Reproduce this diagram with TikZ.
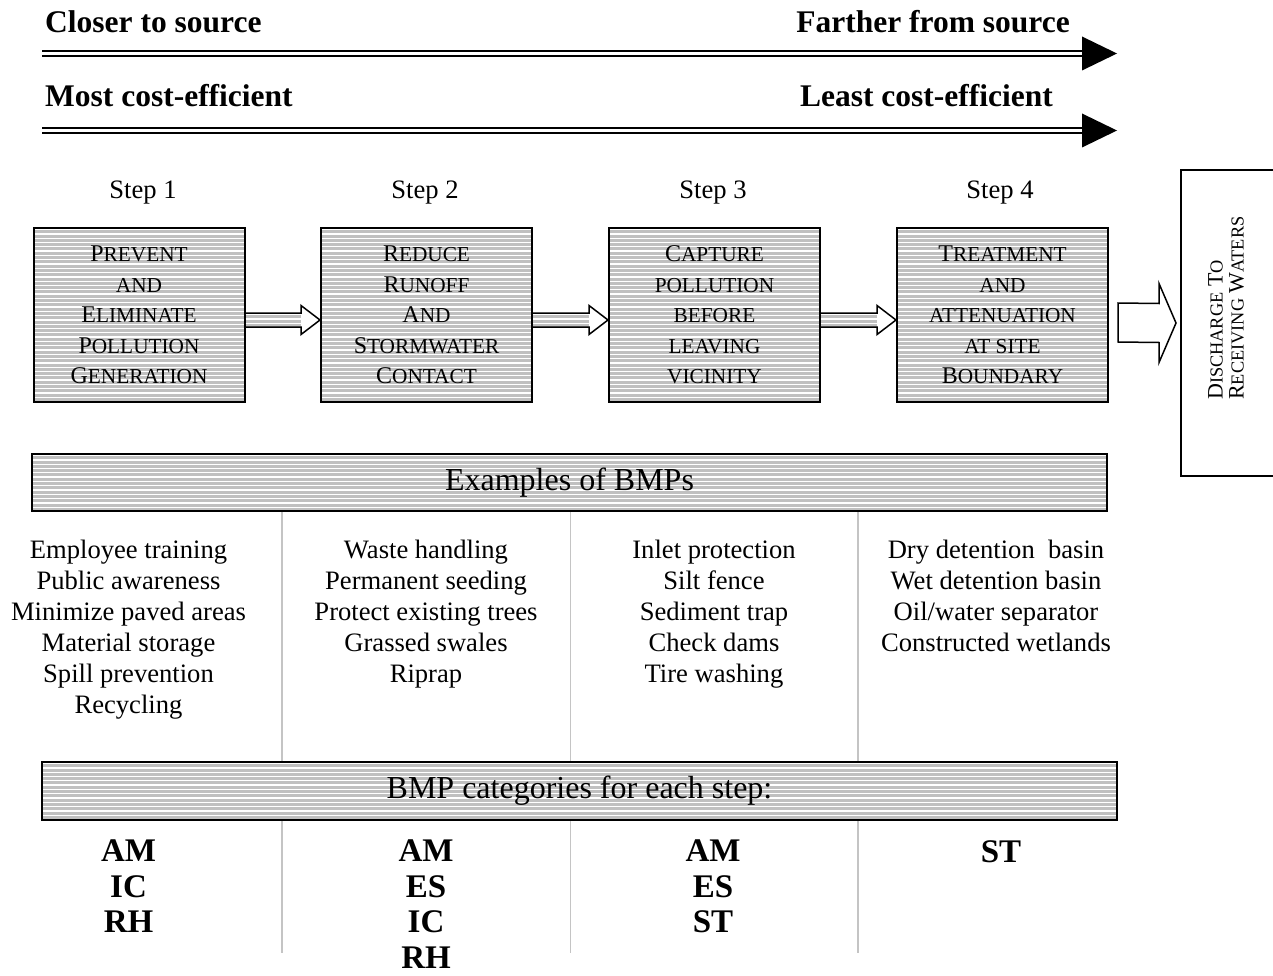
\documentclass[tikz,border=0pt]{standalone}
\usepackage{fontspec}
\setmainfont{Liberation Serif}
\usetikzlibrary{calc}
\definecolor{stripegray}{HTML}{C0C0C0}
\definecolor{sepgray}{HTML}{C4C4C4}
\newcommand{\bsc}[2]{{\fontsize{24}{30.6}\selectfont #1}{\fontsize{21.3}{30.6}\selectfont #2}}
\newcommand{\ssc}[1]{{\fontsize{21.3}{30.6}\selectfont #1}}
\newcommand{\dsc}[2]{{\fontsize{22}{21}\selectfont #1}{\fontsize{18.3}{21}\selectfont #2}}
\tikzset{
  stripes/.style={fill=stripegray, path picture={
      \foreach \k in {0,...,45}
        \draw[white, line width=1.3pt]
          ([yshift=-\k*4.3pt-1.6pt]path picture bounding box.north west) --
          ([yshift=-\k*4.3pt-1.6pt]path picture bounding box.north east);}},
  stepbox/.style={stripes, draw=black, line width=2pt, minimum width=211pt,
      minimum height=174pt, inner sep=0pt, align=center,
      font=\fontsize{24}{30.6}\selectfont},
  banner/.style={stripes, draw=black, line width=2pt, minimum width=1075pt,
      inner sep=0pt, font=\fontsize{32}{36}\selectfont},
  head/.style={font=\bfseries\fontsize{31.5}{36}\selectfont, inner sep=0pt},
  steplabel/.style={anchor=base, inner sep=0pt},
  coltext/.style={anchor=base, inner sep=0pt},
  cattext/.style={anchor=north, inner sep=0pt, align=center,
      font=\bfseries\fontsize{33}{35.5}\selectfont},
  dblline/.style={draw=black, double=white, line width=2.5pt, double distance=2.5pt},
  sepline/.style={draw=sepgray, line width=1.6pt},
  arrowline/.style={draw=black, line width=1.5pt, line join=miter},
}
\newcommand{\blockarrow}[2]{%
  \coordinate (bas) at ($(#1.east)+(0,5)$);
  \coordinate (bat) at ($(#2.west)+(0,5)$);
  \path[stripes] ($(bas)+(0,-7)$) rectangle ($(bat)+(-19,7)$);
  \draw[arrowline] ($(bas)+(0,-7)$) -- ($(bat)+(-19,-7)$) -- ($(bat)+(-19,-14.5)$)
     -- (bat) -- ($(bat)+(-19,14.5)$) -- ($(bat)+(-19,7)$) -- ($(bas)+(0,7)$);
}
\begin{document}
\begin{tikzpicture}[x=1pt, y=-1pt, font=\fontsize{26.6}{31}\selectfont]
\useasboundingbox (0,0) rectangle (1273,976);

% headings and double arrows
\node[head, anchor=base west] (closer) at (45,33) {Closer to source};
\node[head, anchor=base east] (farther) at (1070,33) {Farther from source};
\node[head, anchor=base west] (most) at (45,107) {Most cost-efficient};
\node[head, anchor=base east] (least) at (1053,107) {Least cost-efficient};

\coordinate (d1s) at (42,53.5);
\coordinate (d1e) at (1082,53.5);
\coordinate (d1t) at (1117,53.5);
\draw[dblline] (d1s) -- (d1e);
\fill[black] ($(d1e)+(0,-17)$) -- (d1t) -- ($(d1e)+(0,17)$) -- cycle;

\coordinate (d2s) at (42,130.5);
\coordinate (d2e) at (1082,130.5);
\coordinate (d2t) at (1117,130.5);
\draw[dblline] (d2s) -- (d2e);
\fill[black] ($(d2e)+(0,-17)$) -- (d2t) -- ($(d2e)+(0,17)$) -- cycle;

% step labels
\node[steplabel] (s1) at (143,199) {Step 1};
\node[steplabel] (s2) at (425,199) {Step 2};
\node[steplabel] (s3) at (713,199) {Step 3};
\node[steplabel] (s4) at (1000,199) {Step 4};

% step boxes
\node[stepbox] (b1) at (139,315)
  {\bsc{P}{REVENT}\\ \ssc{AND}\\ \bsc{E}{LIMINATE}\\ \bsc{P}{OLLUTION}\\ \bsc{G}{ENERATION}};
\node[stepbox] (b2) at (426.5,315)
  {\bsc{R}{EDUCE}\\ \bsc{R}{UNOFF}\\ \bsc{A}{ND}\\ \bsc{S}{TORMWATER}\\ \bsc{C}{ONTACT}};
\node[stepbox] (b3) at (714.5,315)
  {\bsc{C}{APTURE}\\ \ssc{POLLUTION}\\ \ssc{BEFORE}\\ \ssc{LEAVING}\\ \ssc{VICINITY}};
\node[stepbox] (b4) at (1002.5,315)
  {\bsc{T}{REATMENT}\\ \ssc{AND}\\ \ssc{ATTENUATION}\\ \ssc{AT SITE}\\ \bsc{B}{OUNDARY}};

\blockarrow{b1}{b2}
\blockarrow{b2}{b3}
\blockarrow{b3}{b4}

% discharge box and arrow
\node[draw=black, line width=2pt, minimum width=94pt, minimum height=306pt, inner sep=0pt]
  (dis) at (1228,323) {};
\node[rotate=90, anchor=west, align=left, inner sep=0pt,
      font=\fontsize{22}{21}\selectfont] (distext) at (1226,400)
  {\dsc{D}{ISCHARGE} \dsc{T}{O}\\\dsc{R}{ECEIVING} \dsc{W}{ATERS}};
\coordinate (das) at ($(b4.east)+(9,7.5)$);
\coordinate (dat) at ($(dis.west)+(-4,0)$);
\draw[arrowline, fill=white] ($(das)+(0,-19.5)$) -- ($(dat)+(-17,-19.5)$) -- ($(dat)+(-17,-39.5)$)
   -- (dat) -- ($(dat)+(-17,39.5)$) -- ($(dat)+(-17,19.5)$) -- ($(das)+(0,19.5)$) -- cycle;

% separators
\coordinate (sp1t) at (282,512);   \coordinate (sp1b) at (282,953);
\coordinate (sp2t) at (570.5,512); \coordinate (sp2b) at (570.5,953);
\coordinate (sp3t) at (858,512);   \coordinate (sp3b) at (858,953);
\draw[sepline] (sp1t) -- (sp1b);
\draw[sepline] (sp2t) -- (sp2b);
\draw[sepline] (sp3t) -- (sp3b);

% banners
\node[banner, minimum height=57pt] (ban1) at (569.5,482.5) {Examples of BMPs};
\node[banner, minimum height=58pt] (ban2) at (579.5,791) {BMP categories for each step:};

% examples
\node[coltext] (ex1) at (128.5,558) {\begin{tabular}[t]{@{}c@{}}Employee training\\Public awareness\\Minimize paved areas\\Material storage\\Spill prevention\\Recycling\end{tabular}};
\node[coltext] (ex2) at (426,558) {\begin{tabular}[t]{@{}c@{}}Waste handling\\Permanent seeding\\Protect existing trees\\Grassed swales\\Riprap\end{tabular}};
\node[coltext] (ex3) at (714,558) {\begin{tabular}[t]{@{}c@{}}Inlet protection\\Silt fence\\Sediment trap\\Check dams\\Tire washing\end{tabular}};
\node[coltext] (ex4) at (996,558) {\begin{tabular}[t]{@{}c@{}}Dry detention\ \ basin\\Wet detention basin\\Oil/water separator\\Constructed wetlands\end{tabular}};

% categories
\node[cattext] (c1) at (128.5,840) {AM\\IC\\RH};
\node[cattext] (c2) at (426,840) {AM\\ES\\IC\\RH};
\node[cattext] (c3) at (713,840) {AM\\ES\\ST};
\node[cattext] (c4) at (1001,840) {ST};
\end{tikzpicture}
\end{document}
